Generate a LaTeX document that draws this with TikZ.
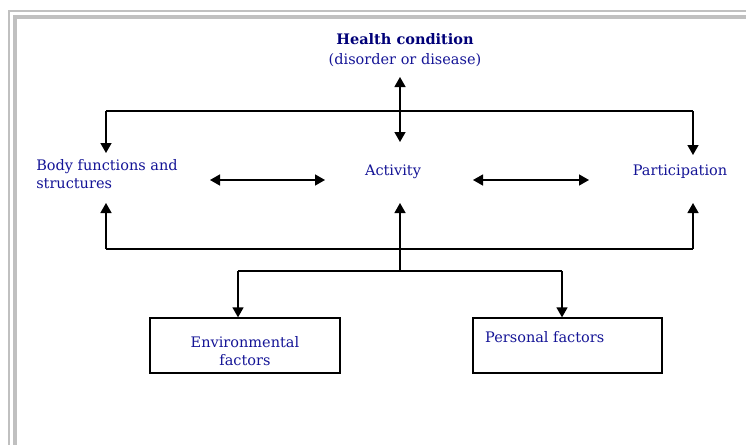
\documentclass[tikz,border=0pt]{standalone}
\usepackage{fontspec}
\setmainfont{DejaVu Serif}
\usetikzlibrary{arrows.meta}
\definecolor{txt}{RGB}{20,20,150}
\definecolor{txtb}{RGB}{0,0,120}
\definecolor{frame}{RGB}{192,192,192}
\tikzset{
  lbl/.style={inner sep=0pt, text=txt, font=\fontsize{14.5}{18}\selectfont},
  fbox/.style={draw=black, line width=1.3pt, inner sep=0pt, minimum width=190pt, minimum height=55pt},
  conn/.style={draw=black, line width=1.4pt},
  arr/.style={conn, -{Triangle[width=11pt,length=10pt]}},
  dbl/.style={conn, {Triangle[width=11pt,length=10pt]}-{Triangle[width=11pt,length=10pt]}}
}
\begin{document}
\begin{tikzpicture}[x=1pt,y=-1pt]
\useasboundingbox (0,0) rectangle (746,445);
% frame
\fill[frame] (8,10) rectangle (746,12);
\fill[frame] (8,10) rectangle (10,445);
\fill[frame] (13,15) rectangle (746,19);
\fill[frame] (13,15) rectangle (17,445);
% nodes
\node[lbl, align=center, font=\fontsize{14.5}{20}\selectfont] (hc) at (405,50)
  {\textcolor{txtb}{\textbf{Health condition}}\\(disorder or disease)};
\node[lbl, align=left] (body) at (107,174) {Body functions and\\structures};
\node[lbl] (act) at (393,172) {Activity};
\node[lbl] (part) at (680,172) {Participation};
\node[fbox] (env) at (245,345.5) {};
\node[lbl, align=center] (envt) at (245,351) {Environmental\\factors};
\node[fbox, minimum width=189pt] (pers) at (567.5,345.5) {};
\node[lbl, anchor=west] (perst) at (485,337) {Personal factors};
% junctions
\coordinate (TL) at (106,111);
\coordinate (TC) at (400,111);
\coordinate (TR) at (693,111);
\coordinate (BL) at (106,249);
\coordinate (BR) at (693,249);
\coordinate (J) at (400,271);
\coordinate (JL) at (238,271);
\coordinate (JR) at (562,271);
% connectors
\draw[conn] (TL) -- (TR);
\draw[arr, shorten >=21pt] (TL) -- (TL |- body.center);
\draw[arr, shorten >=17pt] (TR) -- (TR |- part.center);
\draw[dbl, shorten <=27pt, shorten >=30pt] (hc.center -| TC) -- (act.center -| TC);
\draw[conn] (BL) -- (BR);
\draw[arr, shorten >=29pt] (BL) -- (BL |- body.center);
\draw[arr, shorten >=31pt] (J) -- (J |- act.center);
\draw[arr, shorten >=31pt] (BR) -- (BR |- part.center);
\draw[conn] (JL) -- (JR);
\draw[arr] (JL) -- (JL |- env.north);
\draw[arr] (JR) -- (JR |- pers.north);
\draw[dbl, shorten <=103pt, shorten >=68pt] ([yshift=-6pt]body.center) -- ([yshift=-8pt]act.center);
\draw[dbl, shorten <=80pt, shorten >=91pt] ([yshift=-8pt]act.center) -- ([yshift=-8pt]part.center);
\end{tikzpicture}
\end{document}
